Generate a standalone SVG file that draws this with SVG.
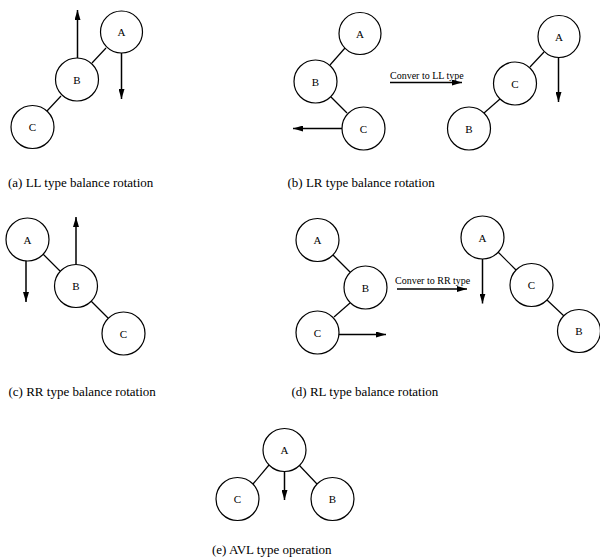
<svg xmlns="http://www.w3.org/2000/svg" width="600" height="559" viewBox="0 0 600 559">
  <style>
    .node circle { fill: #fff; stroke: #000; stroke-width: 1.2; }
    .node text { font-family: "Liberation Serif", "Times New Roman", serif; font-size: 11px; text-anchor: middle; fill: #000; }
    .edge { stroke: #000; stroke-width: 1.2; fill: none; }
    .arrow { stroke: #000; stroke-width: 1.5; fill: none; marker-end: url(#head); }
    .caption { font-family: "Liberation Serif", "Times New Roman", serif; font-size: 13px; fill: #000; }
    .label { font-family: "Liberation Serif", "Times New Roman", serif; font-size: 10px; fill: #000; }
  </style>
  <defs>
    <marker id="head" viewBox="0 0 10 6" refX="10" refY="3" markerWidth="10" markerHeight="6" markerUnits="userSpaceOnUse" orient="auto">
      <path d="M0,0 L10,3 L0,6 Z" fill="#000"/>
    </marker>
  </defs>
  <rect width="600" height="559" fill="#fff"/>

  <!-- connectors: tree edges and rotation arrows -->
  <g id="connectors">
    <!-- (a) -->
    <line class="edge" x1="106" y1="48" x2="92" y2="63"/>
    <line class="edge" x1="61" y1="96" x2="47" y2="111"/>
    <line class="arrow" x1="77.5" y1="58" x2="77.5" y2="10"/>
    <line class="arrow" x1="121.5" y1="53" x2="121.5" y2="99"/>
    <!-- (b) left -->
    <line class="edge" x1="345" y1="48" x2="330" y2="65"/>
    <line class="edge" x1="331" y1="97" x2="347" y2="113"/>
    <line class="arrow" x1="342" y1="128.5" x2="293" y2="128.5"/>
    <!-- (b) transform -->
    <line class="arrow" x1="390" y1="82.5" x2="462" y2="82.5"/>
    <!-- (b) right -->
    <line class="edge" x1="544" y1="52" x2="530" y2="67"/>
    <line class="edge" x1="500" y1="99" x2="484" y2="113"/>
    <line class="arrow" x1="558.5" y1="58" x2="558.5" y2="102"/>
    <!-- (c) -->
    <line class="edge" x1="43" y1="254" x2="60" y2="271"/>
    <line class="edge" x1="91" y1="301" x2="108" y2="318"/>
    <line class="arrow" x1="76" y1="264" x2="76" y2="217"/>
    <line class="arrow" x1="26" y1="260" x2="26" y2="302"/>
    <!-- (d) left -->
    <line class="edge" x1="333" y1="255" x2="350" y2="272"/>
    <line class="edge" x1="350" y1="303" x2="334" y2="317"/>
    <line class="arrow" x1="339" y1="334.5" x2="386" y2="334.5"/>
    <!-- (d) transform -->
    <line class="arrow" x1="397" y1="289" x2="467" y2="289"/>
    <!-- (d) right -->
    <line class="edge" x1="498" y1="252" x2="516" y2="270"/>
    <line class="edge" x1="547" y1="300" x2="564" y2="316"/>
    <line class="arrow" x1="482.5" y1="258" x2="482.5" y2="303.5"/>
    <!-- (e) -->
    <line class="edge" x1="269" y1="465" x2="253" y2="484"/>
    <line class="edge" x1="299" y1="465" x2="317" y2="484"/>
    <line class="arrow" x1="284.5" y1="471" x2="284.5" y2="500"/>
  </g>

  <!-- (a) LL -->
  <g id="a-A" class="node"><circle cx="121.5" cy="32" r="21"/><text x="121.5" y="36">A</text></g>
  <g id="a-B" class="node"><circle cx="77" cy="79.5" r="21.5"/><text x="77" y="83.5">B</text></g>
  <g id="a-C" class="node"><circle cx="32.5" cy="127" r="21.5"/><text x="32.5" y="131">C</text></g>

  <!-- (b) LR -->
  <g id="b-A" class="node"><circle cx="360" cy="33.5" r="21"/><text x="360" y="37.5">A</text></g>
  <g id="b-B" class="node"><circle cx="315.5" cy="81.5" r="21.5"/><text x="315.5" y="85.5">B</text></g>
  <g id="b-C" class="node"><circle cx="363.5" cy="128.5" r="21.5"/><text x="363.5" y="132.5">C</text></g>
  <g id="b-A2" class="node"><circle cx="559" cy="36.5" r="21"/><text x="559" y="40.5">A</text></g>
  <g id="b-C2" class="node"><circle cx="515" cy="83.5" r="21.5"/><text x="515" y="87.5">C</text></g>
  <g id="b-B2" class="node"><circle cx="469" cy="128.5" r="21.5"/><text x="469" y="132.5">B</text></g>
  <text class="label" x="390" y="78.5">Conver to LL type</text>

  <!-- (c) RR -->
  <g id="c-A" class="node"><circle cx="27.5" cy="239.5" r="21.5"/><text x="27.5" y="243.5">A</text></g>
  <g id="c-B" class="node"><circle cx="76" cy="286" r="21.5"/><text x="76" y="290">B</text></g>
  <g id="c-C" class="node"><circle cx="123.5" cy="333.5" r="21.5"/><text x="123.5" y="337.5">C</text></g>

  <!-- (d) RL -->
  <g id="d-A" class="node"><circle cx="317.5" cy="240" r="21.5"/><text x="317.5" y="244">A</text></g>
  <g id="d-B" class="node"><circle cx="365.5" cy="287.5" r="21.5"/><text x="365.5" y="291.5">B</text></g>
  <g id="d-C" class="node"><circle cx="317.5" cy="332.5" r="21.5"/><text x="317.5" y="336.5">C</text></g>
  <g id="d-A2" class="node"><circle cx="482.5" cy="237.5" r="21.5"/><text x="482.5" y="241.5">A</text></g>
  <g id="d-C2" class="node"><circle cx="531.5" cy="285" r="21.5"/><text x="531.5" y="289">C</text></g>
  <g id="d-B2" class="node"><circle cx="579" cy="331" r="21.5"/><text x="579" y="335">B</text></g>
  <text class="label" x="395" y="284">Conver to RR type</text>

  <!-- (e) AVL -->
  <g id="e-A" class="node"><circle cx="284.5" cy="450" r="21.5"/><text x="284.5" y="454">A</text></g>
  <g id="e-C" class="node"><circle cx="237.5" cy="499" r="21.5"/><text x="237.5" y="503">C</text></g>
  <g id="e-B" class="node"><circle cx="332.5" cy="499" r="21.5"/><text x="332.5" y="503">B</text></g>

  <!-- captions -->
  <text class="caption" x="8" y="187">(a) LL type balance rotation</text>
  <text class="caption" x="287.5" y="187">(b) LR type balance rotation</text>
  <text class="caption" x="8.5" y="396">(c) RR type balance rotation</text>
  <text class="caption" x="291.5" y="396">(d) RL type balance rotation</text>
  <text class="caption" x="212" y="554">(e) AVL type operation</text>
</svg>
